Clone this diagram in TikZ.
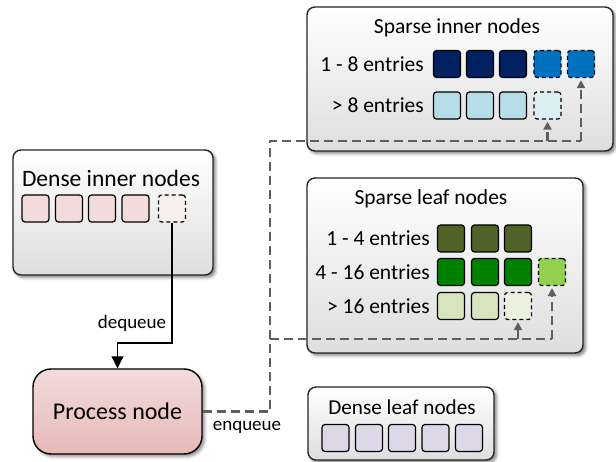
\documentclass[tikz,border=0pt]{standalone}
\usepackage{fontspec}
\setmainfont{Carlito}
\usetikzlibrary{arrows.meta,shadows.blur,calc}

\definecolor{navy}{HTML}{002060}
\definecolor{midblue}{HTML}{0070C0}
\definecolor{paleblue}{HTML}{B7DEE8}
\definecolor{icyblue}{HTML}{DAEEF3}
\definecolor{olive}{HTML}{4F6228}
\definecolor{green}{HTML}{008000}
\definecolor{limegreen}{HTML}{92D050}
\definecolor{sagegreen}{HTML}{D7E4BD}
\definecolor{mistgreen}{HTML}{EBF1DE}
\definecolor{rose}{HTML}{F2DCDB}
\definecolor{paleRose}{HTML}{F8EEEE}
\definecolor{rosedark}{HTML}{E6B9B8}
\definecolor{lavender}{HTML}{DDD8E8}
\definecolor{linegray}{HTML}{5E5E5E}

\tikzset{
  panel/.style={draw=black!85, line width=1.4pt, rounded corners=8pt,
    top color=white, bottom color=black!13,
    blur shadow={shadow xshift=2.5pt, shadow yshift=-2.5pt, shadow blur radius=3pt, shadow opacity=50}},
  sq/.style={draw=black, line width=1.2pt, rounded corners=3pt,
    minimum width=27pt, minimum height=27pt, inner sep=0pt},
  sqd/.style={sq, dash pattern=on 4pt off 3pt},
  ttl/.style={font=\fontsize{21.5}{25}\selectfont, inner sep=0pt},
  lbl/.style={font=\fontsize{21.5}{25}\selectfont, anchor=east, inner sep=0pt},
  small/.style={font=\fontsize{19}{23}\selectfont, inner sep=0pt},
  dline/.style={draw=linegray, line width=2.2pt, dash pattern=on 9pt off 5pt},
  gtip/.style={-{Triangle[length=8pt,width=8pt]}, shorten >=2pt},
}

\begin{document}
\begin{tikzpicture}[x=1pt,y=-1pt]
\useasboundingbox (0,0) rectangle (616,462);

% ---- panels ----
\node[panel, minimum width=306pt, minimum height=144pt] (sib) at (460,79) {};
\node[panel, minimum width=276pt, minimum height=175pt] (slb) at (445,265.5) {};
\node[panel, minimum width=200pt, minimum height=125pt] (dib) at (113,212.5) {};
\node[panel, minimum width=186pt, minimum height=73pt] (dlb) at (401,423.5) {};

% ---- sparse inner nodes ----
\node[ttl] (sit) at (457,28) {Sparse inner nodes};
\node[sq, fill=navy] (si11) at (447,64) {};
\node[sq, fill=navy] (si12) at (480,64) {};
\node[sq, fill=navy] (si13) at (513,64) {};
\node[sqd, fill=midblue] (si14) at (547.5,64) {};
\node[sqd, fill=midblue] (si15) at (581,64) {};
\node[sq, fill=paleblue] (si21) at (447,105.5) {};
\node[sq, fill=paleblue] (si22) at (480,105.5) {};
\node[sq, fill=paleblue] (si23) at (513,105.5) {};
\node[sqd, fill=icyblue] (si24) at (547.5,105.5) {};
\node[lbl] (sil1) at (424,64) {1 - 8 entries};
\node[lbl] (sil2) at (424,105.5) {> 8 entries};

% ---- sparse leaf nodes ----
\node[ttl] (slt) at (431,199) {Sparse leaf nodes};
\node[sq, fill=olive] (sl11) at (451,238.5) {};
\node[sq, fill=olive] (sl12) at (485,238.5) {};
\node[sq, fill=olive] (sl13) at (518,238.5) {};
\node[sq, fill=green] (sl21) at (451,272) {};
\node[sq, fill=green] (sl22) at (485,272) {};
\node[sq, fill=green] (sl23) at (518,272) {};
\node[sqd, fill=limegreen] (sl24) at (552,272) {};
\node[sq, fill=sagegreen] (sl31) at (451,306) {};
\node[sq, fill=sagegreen] (sl32) at (485,306) {};
\node[sqd, fill=mistgreen] (sl33) at (518,306) {};
\node[lbl] (sll1) at (430,238.5) {1 - 4 entries};
\node[lbl] (sll2) at (430,272) {4 - 16 entries};
\node[lbl] (sll3) at (430,306) {> 16 entries};

% ---- dense inner nodes ----
\node[ttl, font=\fontsize{23.5}{27}\selectfont] (dit) at (111,178) {Dense inner nodes};
\node[sq, fill=rose] (di1) at (35.5,208.5) {};
\node[sq, fill=rose] (di2) at (69,208.5) {};
\node[sq, fill=rose] (di3) at (102,208.5) {};
\node[sq, fill=rose] (di4) at (135.5,208.5) {};
\node[sqd, fill=paleRose] (di5) at (172,208.5) {};

% ---- dense leaf nodes ----
\node[ttl, font=\fontsize{21.2}{25}\selectfont] (dlt) at (402,407) {Dense leaf nodes};
\node[sq, fill=lavender] (dl1) at (335.5,438) {};
\node[sq, fill=lavender] (dl2) at (369,438) {};
\node[sq, fill=lavender] (dl3) at (402,438) {};
\node[sq, fill=lavender] (dl4) at (435.5,438) {};
\node[sq, fill=lavender] (dl5) at (469,438) {};

% ---- process node ----
\node[draw=black, line width=1.4pt, rounded corners=18pt,
      top color=rose, bottom color=rosedark,
      blur shadow={shadow xshift=2.5pt, shadow yshift=-2.5pt, shadow blur radius=3pt, shadow opacity=45},
      minimum width=169pt, minimum height=85pt,
      font=\fontsize{24}{28}\selectfont] (pn) at (117.5,411.5) {Process node};

% ---- dequeue ----
\coordinate (dq) at (117.5,343);
\draw[line width=1.1pt, -{Triangle[length=12pt,width=12pt]}] (di5.south) |- (dq) -- (pn.north);
\node[small] (dql) at (132,323) {dequeue};

% ---- enqueue ----
\coordinate (jtop) at (270,141);
\coordinate (jleaf) at (270,339);
\draw[dline] (pn.east) -| (jtop) -- (si15 |- jtop);
\draw[dline, gtip] (si15 |- jtop) -- (si15.south);
\draw[dline, gtip] (si24 |- jtop) -- (si24.south);
\draw[dline] (jleaf) -- (sl24 |- jleaf);
\draw[dline, gtip] (sl24 |- jleaf) -- (sl24.south);
\draw[dline, gtip] (sl33 |- jleaf) -- (sl33.south);
\node[small] (eql) at (247,427) {enqueue};
\end{tikzpicture}
\end{document}
